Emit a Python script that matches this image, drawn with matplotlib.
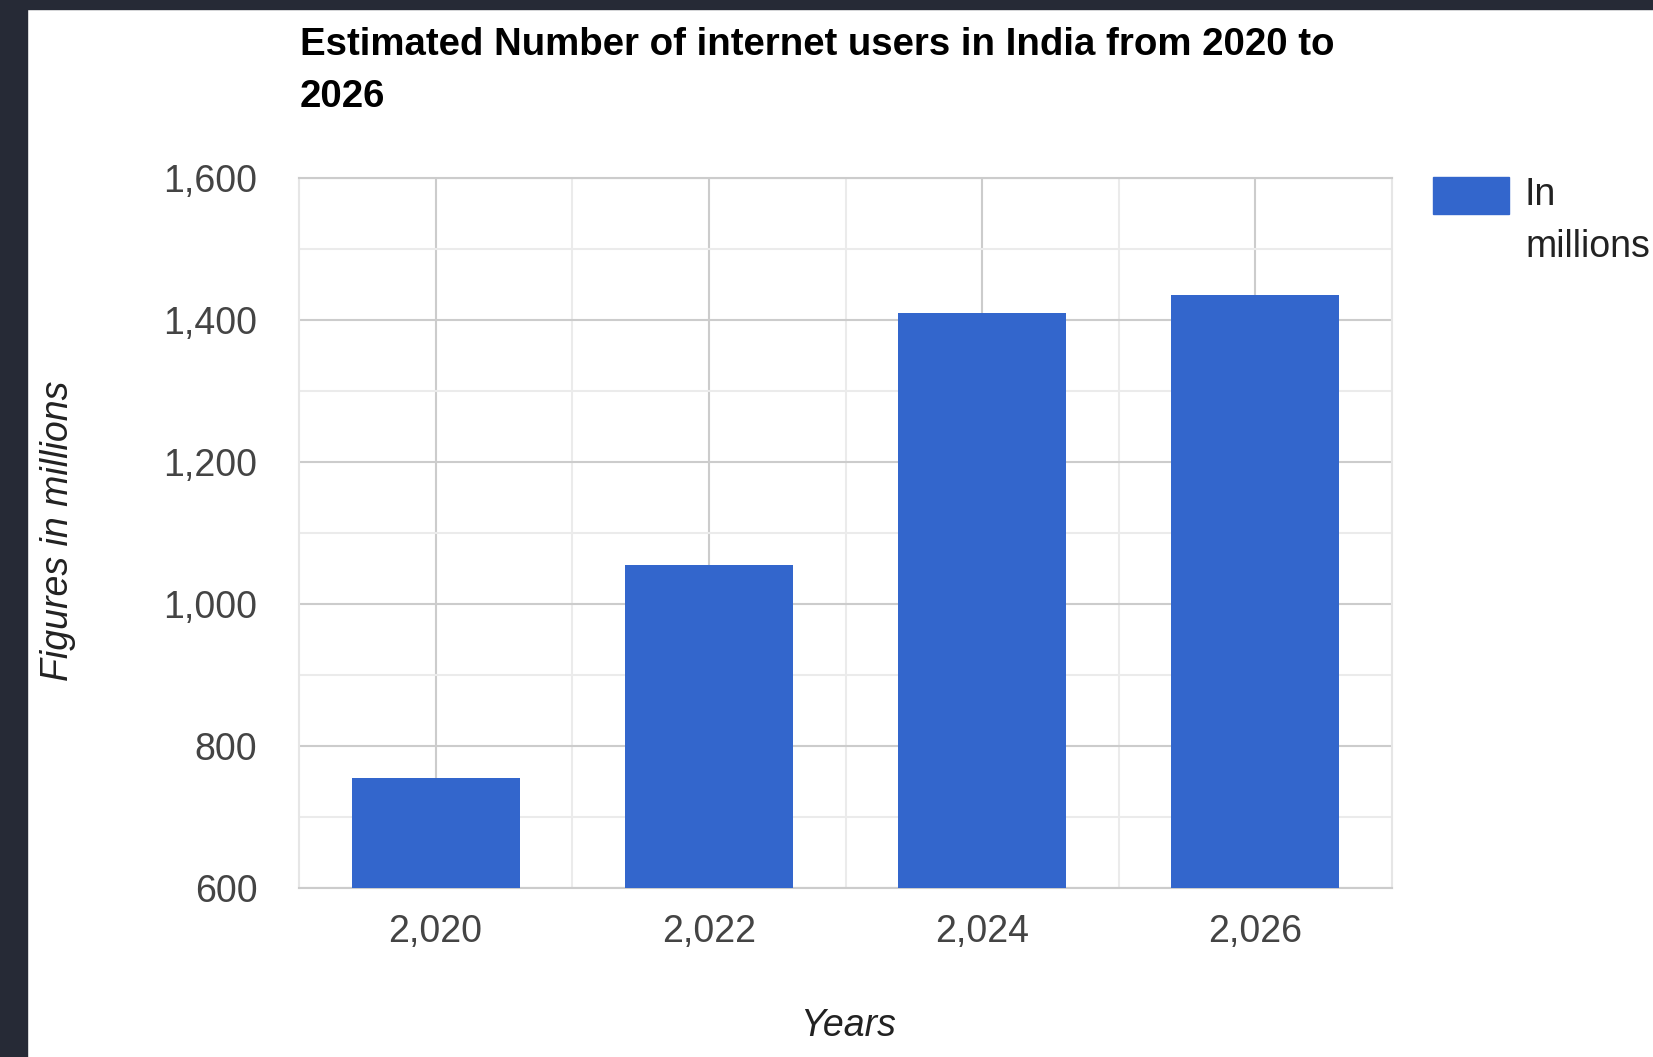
import matplotlib
matplotlib.use("Agg")
import matplotlib.pyplot as plt
from matplotlib.patches import Rectangle
from matplotlib.ticker import FuncFormatter, MultipleLocator, FixedLocator

plt.rcParams['font.family'] = ['Liberation Sans', 'DejaVu Sans']

# estimated internet users in India (millions)
years = [2020, 2022, 2024, 2026]
users = [755, 1055, 1410, 1435]
series_label = "In\nmillions"
title_lines = ["Estimated Number of internet users in India from 2020 to", "2026"]

W, H = 1653, 1057
fig = plt.figure(figsize=(W / 100, H / 100), dpi=100)
fig.patch.set_facecolor("white")

# dark frame around the chart card
frame = "#262a36"
fig.patches.append(Rectangle((0, 0), 27 / W, 1, transform=fig.transFigure, color=frame, zorder=0))
fig.patches.append(Rectangle((0, 1 - 9 / H), 1, 9 / H, transform=fig.transFigure, color=frame, zorder=0))

ax = fig.add_axes([299 / W, 1 - 888 / H, (1392 - 299) / W, (888 - 178) / H])
ax.bar(years, users, width=1.23, color="#3366cc", zorder=3)

ax.set_xlim(2019, 2027)
ax.set_ylim(600, 1600)
ax.set_xticks(years)
ax.xaxis.set_minor_locator(FixedLocator([2021, 2023, 2025]))
ax.yaxis.set_major_locator(MultipleLocator(200))
ax.yaxis.set_minor_locator(MultipleLocator(100))
fmt = FuncFormatter(lambda v, p: f"{v:,.0f}")
ax.xaxis.set_major_formatter(fmt)
ax.yaxis.set_major_formatter(fmt)

ax.set_axisbelow(True)
ax.grid(which="major", color="#cccccc", linewidth=1.5)
ax.grid(which="minor", color="#ebebeb", linewidth=1.5)
ax.tick_params(which="both", length=0)
ax.tick_params(axis="x", pad=19, labelsize=27, labelcolor="#444444")
ax.tick_params(axis="y", pad=30, labelsize=27, labelcolor="#444444")

for side in ("left", "right"):
    ax.spines[side].set_color("#e6e6e6")
    ax.spines[side].set_linewidth(1.5)
for side in ("top", "bottom"):
    ax.spines[side].set_color("#cccccc")
    ax.spines[side].set_linewidth(1.5)

fig.text(848 / W, 1 - 1026 / H, "Years", fontsize=27, style="italic",
         color="#222222", ha="center", va="center")
fig.text(58 / W, 1 - 531 / H, "Figures in millions", fontsize=27, style="italic",
         color="#222222", ha="center", va="center", rotation=90)

# title, two lines
fig.text(300 / W, 1 - 55 / H, title_lines[0], fontsize=27.6, fontweight="bold",
         color="#000000", ha="left", va="baseline")
fig.text(300 / W, 1 - 107 / H, title_lines[1], fontsize=27.6, fontweight="bold",
         color="#000000", ha="left", va="baseline")

# legend swatch and label
fig.patches.append(Rectangle((1433 / W, 1 - 214 / H), 76 / W, 37 / H,
                             transform=fig.transFigure, color="#3366cc", zorder=2))
for i, line in enumerate(series_label.split("\n")):
    fig.text(1525 / W, 1 - (205 + 52 * i) / H, line, fontsize=27,
             color="#222222", ha="left", va="baseline")

fig.savefig("out.png", dpi=100)
